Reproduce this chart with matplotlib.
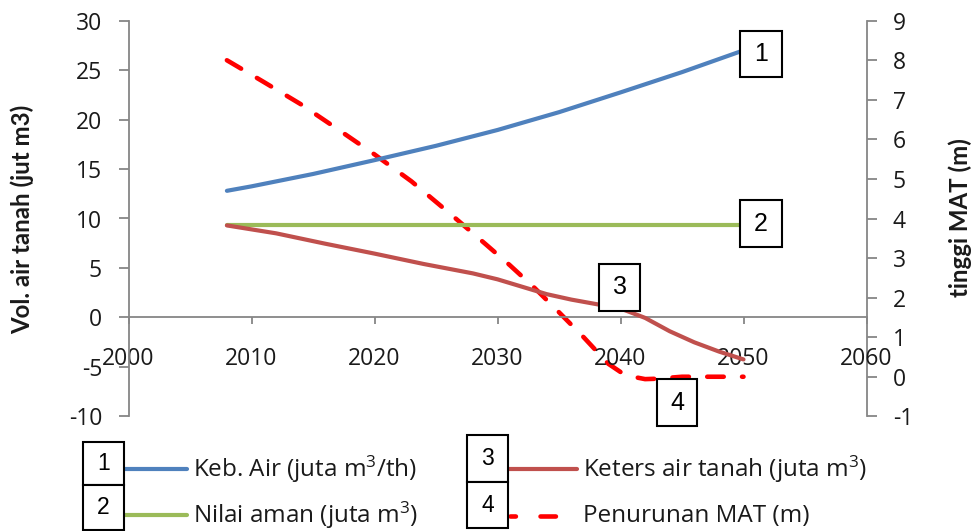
import matplotlib
matplotlib.use("Agg")
import matplotlib.pyplot as plt
from matplotlib.patches import Rectangle
from matplotlib.lines import Line2D

plt.rcParams['font.family'] = ['Open Sans', 'DejaVu Sans']
plt.rcParams['mathtext.fontset'] = 'custom'
plt.rcParams['mathtext.rm'] = 'Open Sans'
plt.rcParams['axes.unicode_minus'] = False

# ---- data ----
years_keb = [2008, 2010, 2015, 2020, 2025, 2030, 2035, 2040, 2045, 2050]
keb_air = [12.8, 13.25, 14.5, 15.9, 17.35, 18.95, 20.75, 22.75, 24.8, 27.0]

years_aman = [2008, 2050]
nilai_aman = [9.3, 9.3]

years_keters = [2008, 2012, 2016, 2020, 2024, 2028, 2030, 2032, 2034, 2036,
                2038, 2040, 2042, 2044, 2046, 2048, 2050]
keters = [9.3, 8.5, 7.45, 6.45, 5.4, 4.45, 3.85, 3.1, 2.35, 1.8,
          1.35, 0.9, -0.05, -1.4, -2.52, -3.45, -4.25]

years_mat = [2008, 2011, 2014, 2017, 2020, 2023, 2026, 2029, 2031, 2033,
             2035, 2037, 2039, 2040, 2041, 2042, 2043, 2045, 2050]
penurunan_mat = [8.0, 7.45, 6.89, 6.26, 5.62, 4.94, 4.16, 3.36, 2.82, 2.25,
                 1.63, 1.0, 0.33, 0.12, 0.0, -0.06, -0.05, 0.0, 0.0]

left_ticks = list(range(-10, 31, 5))
right_ticks = list(range(-1, 10, 1))
x_ticks = list(range(2000, 2061, 10))

labels = ["Keb. Air (juta m$\\mathregular{^3}$/th)",
          "Nilai aman (juta m$\\mathregular{^3}$)",
          "Keters air tanah (juta m$\\mathregular{^3}$)",
          "Penurunan MAT (m)"]

c_blue = "#4F81BD"
c_green = "#9BBB59"
c_red = "#C0504D"
c_dash = "#FF0000"
c_axis = "#868686"
c_text = "#1a1a1a"

W, H = 976, 531
fig = plt.figure(figsize=(W / 100, H / 100), dpi=100)

def fx(px):
    return px / W

def fy(py):
    return 1 - py / H

x0, x1, y0, y1 = 128.5, 866.5, 20.7, 416.3
ax = fig.add_axes([fx(x0), fy(y1), fx(x1 - x0), (y1 - y0) / H])
ax.set_xlim(2000, 2060)
ax.set_ylim(-10, 30)
ax.set_xticks(x_ticks)
ax.set_yticks(left_ticks)

for s in ("top", "right"):
    ax.spines[s].set_visible(False)
ax.spines["bottom"].set_position(("data", 0))
for s in ("left", "bottom"):
    ax.spines[s].set_color(c_axis)
    ax.spines[s].set_linewidth(1.3)

ax.tick_params(axis="y", direction="out", length=7, width=1.3, color=c_axis,
               pad=12, labelsize=16.5, labelcolor=c_text)
ax.tick_params(axis="x", direction="out", length=5, width=1.3, color=c_axis,
               pad=16, labelsize=16.5, labelcolor=c_text)

ax2 = ax.twinx()
ax2.set_ylim(-1, 9)
ax2.set_yticks(right_ticks)
for s in ("top", "left", "bottom"):
    ax2.spines[s].set_visible(False)
ax2.spines["right"].set_color(c_axis)
ax2.spines["right"].set_linewidth(1.3)
ax2.tick_params(axis="y", direction="out", length=7, width=1.3, color=c_axis,
                pad=12, labelsize=16.5, labelcolor=c_text)

lw = 3.0
dash_lw = 3.3
ax.plot(years_keb, keb_air, color=c_blue, lw=lw, solid_capstyle="round", zorder=3)
ax.plot(years_aman, nilai_aman, color=c_green, lw=lw, solid_capstyle="round", zorder=3)
ax.plot(years_keters, keters, color=c_red, lw=lw, solid_capstyle="round", zorder=3)
ax2.plot(years_mat, penurunan_mat, color=c_dash, lw=dash_lw,
         linestyle=(0, (3.6, 4.0)), dash_capstyle="round", zorder=3)

ax.set_zorder(2)
ax.patch.set_visible(False)
ax2.set_zorder(1)

fig.text(fx(22), fy(219), "Vol. air tanah (jut m3)", rotation=90, fontsize=17.3,
         family=["Lato", "DejaVu Sans"], fontweight="bold",
         ha="center", va="center", color=c_text)
fig.text(fx(960), fy(218), "tinggi MAT (m)", rotation=90, fontsize=17.3,
         family=["Lato", "DejaVu Sans"], fontweight="bold",
         ha="center", va="center", color=c_text)

num_font = ["Liberation Sans Narrow", "Liberation Sans", "DejaVu Sans"]

def num_box(left, top, w, h, txt, size):
    r = Rectangle((fx(left), fy(top + h)), fx(w), h / H, transform=fig.transFigure,
                  facecolor="white", edgecolor="black", lw=1.5, zorder=10)
    fig.add_artist(r)
    fig.text(fx(left + w / 2), fy(top + h / 2), txt, family=num_font,
             fontsize=size, ha="center", va="center", color="black", zorder=11)

# callout boxes at the line ends
num_box(740, 31, 42, 46, "1", 18)
num_box(740, 200, 42, 47, "2", 18)
num_box(599, 264, 41, 47, "3", 18)
num_box(657, 379, 40, 47, "4", 18)

# legend
num_box(83, 442, 41, 43, "1", 16.5)
num_box(83, 485, 41, 45, "2", 16.5)
num_box(467, 435, 41, 47, "3", 16.5)
num_box(467, 482, 41, 46, "4", 16.5)

fig.add_artist(Line2D([fx(124), fx(187)], [fy(469), fy(469)], color=c_blue, lw=lw,
                      transform=fig.transFigure, solid_capstyle="round"))
fig.add_artist(Line2D([fx(124), fx(187)], [fy(515), fy(515)], color=c_green, lw=lw,
                      transform=fig.transFigure, solid_capstyle="round"))
fig.add_artist(Line2D([fx(508), fx(577)], [fy(469), fy(469)], color=c_red, lw=lw,
                      transform=fig.transFigure, solid_capstyle="round"))
fig.add_artist(Line2D([fx(510.3), fx(555.7)], [fy(516), fy(516)], color=c_dash,
                      lw=dash_lw, linestyle=(0, (1.18, 5.37, 3.36, 5.37)),
                      transform=fig.transFigure, dash_capstyle="round"))

fsz = 17.5
fig.text(fx(193), fy(469), labels[0], fontsize=fsz, ha="left", va="center", color=c_text)
fig.text(fx(193), fy(515), labels[1], fontsize=fsz, ha="left", va="center", color=c_text)
fig.text(fx(583), fy(469), labels[2], fontsize=fsz, ha="left", va="center", color=c_text)
fig.text(fx(583), fy(516), labels[3], fontsize=fsz, ha="left", va="center", color=c_text)

fig.savefig("out.png", dpi=100, facecolor="white")
